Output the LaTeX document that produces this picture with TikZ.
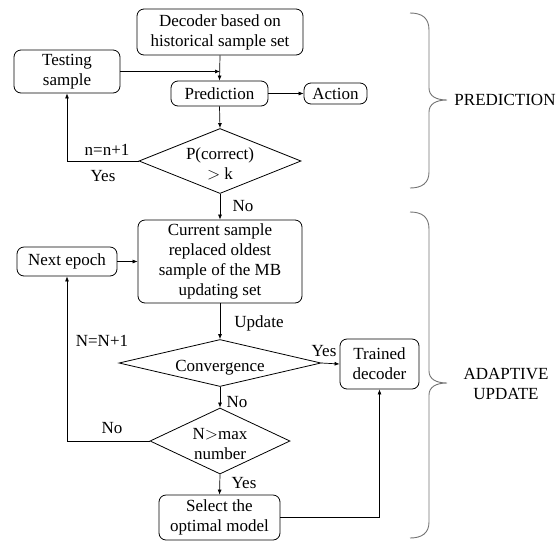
\documentclass[tikz,border=0pt]{standalone}
\usepackage{fontspec}
\setmainfont{Liberation Serif}
\usetikzlibrary{shapes.geometric,arrows.meta}
% text set into a diamond without changing the diamond's size
\newcommand{\dtxt}[1]{\makebox[0pt]{\raisebox{-8.5pt}[0pt][0pt]{\begin{tabular}{@{}c@{}}#1\end{tabular}}}}
\begin{document}
\begin{tikzpicture}[x=1pt,y=-1pt,
  every node/.style={font=\fontsize{17}{20}\selectfont, inner sep=0pt},
  box/.style={draw, rounded corners=7pt, align=center, line width=0.8pt},
  dia/.style={draw, diamond, line width=0.8pt},
  lbl/.style={},
  arr/.style={line width=0.7pt, -{Latex[length=5pt,width=4pt]}},
  brace/.style={draw=black!55, line width=0.9pt}]
\useasboundingbox (0,0) rectangle (560,542);

% process boxes
\node[box, minimum width=166, minimum height=46] (dec) at (220,32) {Decoder based on\\historical sample set};
\node[box, minimum width=106, minimum height=43] (test) at (67,71.5) {Testing\\sample};
\node[box, minimum width=97, minimum height=25] (pred) at (219.5,93.5) {Prediction};
\node[box, minimum width=63, minimum height=21] (act) at (335.5,93.5) {Action};
\node[dia, minimum width=162, minimum height=65] (d1) at (220,161) {\dtxt{P(correct)\\$>$ k}};
\node[box, minimum width=164, minimum height=83] (cur) at (220,261.5) {Current sample\\replaced oldest\\sample of the MB\\updating set};
\node[box, minimum width=100, minimum height=29] (next) at (67,261.5) {Next epoch};
\node[dia, minimum width=202, minimum height=47] (conv) at (220,363) {\dtxt{Convergence}};
\node[box, minimum width=79, minimum height=50] (trained) at (379.5,364) {Trained\\decoder};
\node[dia, minimum width=140, minimum height=66] (nmax) at (220,441) {\dtxt{N$>$max\\number}};
\node[box, minimum width=121, minimum height=45] (sel) at (219.5,517.5) {Select the\\optimal model};

% connectors
\coordinate (j1) at (220,71.5);
\draw[arr] (dec.south) -- (pred.north);
\draw[arr] (test.east) -- (j1);
\draw[arr] (pred.east) -- (act.west);
\draw[arr] (pred.south) -- (d1.north);
\draw[arr] (d1.west) -| (test.south);
\draw[arr] (d1.south) -- (cur.north);
\draw[arr] (next.east) -- (cur.west);
\draw[arr] (cur.south) -- (conv.north);
\draw[arr] (conv.east) -- (trained.west);
\draw[arr] (conv.south) -- (nmax.north);
\draw[arr] (nmax.west) -| (next.south);
\draw[arr] (nmax.south) -- (sel.north);
\draw[arr] (sel.east) -| (trained.south);

% connector labels
\node[lbl] (l1) at (107,150) {n=n+1};
\node[lbl] (l2) at (103,176) {Yes};
\node[lbl] (l3) at (243,206) {No};
\node[lbl] (l4) at (259,323) {Update};
\node[lbl] (l5) at (324,351) {Yes};
\node[lbl] (l6) at (102,341) {N=N+1};
\node[lbl] (l7) at (237,402) {No};
\node[lbl] (l8) at (112,428) {No};
\node[lbl] (l9) at (244,483) {Yes};

% phase braces
\draw[brace] (410,13) .. controls (422,13) and (429,18) .. (429,30) -- (429,88)
  .. controls (429,96) and (436,100) .. (447,100)
  .. controls (436,100) and (429,104) .. (429,112) -- (429,172)
  .. controls (429,183) and (422,188) .. (410,188);
\draw[brace] (410,212) .. controls (422,212) and (429,217) .. (429,229) -- (429,371)
  .. controls (429,379) and (436,383) .. (447,383)
  .. controls (436,383) and (429,387) .. (429,395) -- (429,522)
  .. controls (429,533) and (422,538) .. (410,538);

\node (ph1) at (505,100) {PREDICTION};
\node[align=center] (ph2) at (506,384) {ADAPTIVE\\UPDATE};
\end{tikzpicture}
\end{document}
